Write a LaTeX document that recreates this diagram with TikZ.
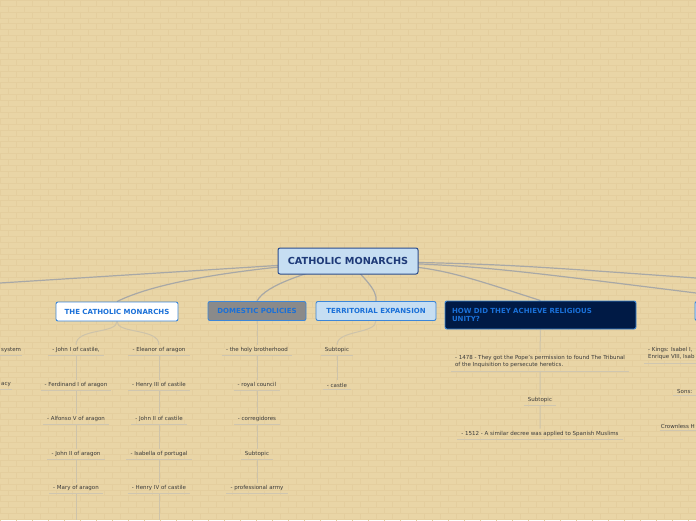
\documentclass[tikz,border=0pt]{standalone}
\usepackage{fontspec}
\setmainfont{DejaVu Sans}
\usetikzlibrary{calc}
\definecolor{bgc}{HTML}{E9D5A6}
\definecolor{brickc}{HTML}{E4CE9E}
\definecolor{mainline}{HTML}{A8A8A6}
\definecolor{subline}{HTML}{CDC3AA}
\definecolor{ulc}{HTML}{CFC6B0}
\definecolor{cfill}{HTML}{C6DEF2}
\definecolor{cdraw}{HTML}{2B4C8C}
\definecolor{ctext}{HTML}{1E3A78}
\definecolor{tdraw}{HTML}{3C86D8}
\definecolor{ttext}{HTML}{1A70D8}
\definecolor{grayfill}{HTML}{8A8A8A}
\definecolor{navyfill}{HTML}{001A45}
\definecolor{subtext}{HTML}{3A3A3A}
\pgfdeclarelayer{bg}
\pgfdeclarelayer{edges}
\pgfsetlayers{bg,edges,main}
\tikzset{
  central/.style={draw=cdraw, fill=cfill, rounded corners=2pt, line width=1pt,
    text=ctext, font=\fontsize{9.7}{11}\selectfont\bfseries, minimum width=140pt, minimum height=26pt, inner sep=0pt},
  topic/.style={draw=tdraw, rounded corners=2pt, line width=0.9pt, text=ttext,
    font=\fontsize{7}{8}\selectfont\bfseries, minimum height=19pt, inner sep=0pt},
  subt/.style={text=subtext, font=\fontsize{5.5}{7.2}\selectfont, inner xsep=4pt, inner ysep=2.4pt,
    append after command={(\tikzlastnode.south west) edge[ul] (\tikzlastnode.south east)}},
  ul/.style={draw=ulc, line width=0.9pt},
  mainconn/.style={draw=mainline, line width=1.2pt},
  subconn/.style={draw=subline, line width=1pt},
}
\begin{document}
\begin{tikzpicture}[x=1pt,y=-1pt]
\useasboundingbox (0,0) rectangle (696,520);
\begin{pgfonlayer}{bg}
  \fill[bgc] (0,0) rectangle (696,520);
  \foreach \r [evaluate=\r as \off using {mod(\r,2)*8}] in {0,...,88} {
    \draw[brickc, line width=0.4pt] (0,\r*5.9) -- (696,\r*5.9);
    \draw[brickc, line width=0.4pt] \foreach \k in {-1,...,44} { (\k*16+\off,\r*5.9) -- ++(0,5.9) };
  }
\end{pgfonlayer}

% central
\node[central] (c) at (348,261) {CATHOLIC MONARCHS};

% topics
\node[topic, fill=white, minimum width=122pt] (tcm) at (117,311.5) {THE CATHOLIC MONARCHS};
\node[topic, fill=grayfill, minimum width=98pt] (dp) at (257,311) {DOMESTIC POLICIES};
\node[topic, fill=cfill, minimum width=120pt] (te) at (376,311) {TERRITORIAL EXPANSION};
\node[topic, fill=navyfill, minimum width=191pt, minimum height=28pt, text width=177pt, align=left,
  font=\fontsize{7}{8.2}\selectfont\bfseries] (hd) at (540.5,315) {HOW DID THEY ACHIEVE RELIGIOUS\\UNITY?};
\node[topic, fill=cfill, minimum width=20pt, anchor=west] (rt) at (694.5,311) {};

\coordinate (offL) at (0,283);
\coordinate (offR1) at (696,278);
\coordinate (offR2) at (696,293);

% left edge fragments
\node[subt, anchor=west, inner xsep=1pt] (ls1) at (0,350) {system};
\node[subt, anchor=west, inner xsep=1pt] (ls2) at (0,385) {acy};

% catholic monarchs children
\node[subt] (a1) at (76,350) {- John I of castile,};
\node[subt] (a2) at (76,385) {- Ferdinand I of aragon};
\node[subt] (a3) at (76,419) {- Alfonso V of aragon};
\node[subt] (a4) at (76,454) {- John II of aragon};
\node[subt] (a5) at (76,488) {- Mary of aragon};
\node[subt] (b1) at (159,350) {- Eleanor of aragon};
\node[subt] (b2) at (159,385) {- Henry III of castile};
\node[subt] (b3) at (159,419) {- John II of castile};
\node[subt] (b4) at (159,454) {- Isabella of portugal};
\node[subt] (b5) at (159,488) {- Henry IV of castile};
\coordinate (aend) at (76,520);
\coordinate (bend) at (159,520);

% domestic policies children
\node[subt] (d1) at (257,350) {- the holy brotherhood};
\node[subt] (d2) at (257,385) {- royal council};
\node[subt] (d3) at (257,419) {- corregidores};
\node[subt] (d4) at (257,454) {Subtopic};
\node[subt] (d5) at (257,488) {- professional army};

% territorial expansion children
\node[subt] (t1) at (337,350) {Subtopic};
\node[subt] (t2) at (337,385) {- castle};

% religious unity children
\node[subt, align=left, inner ysep=3pt] (h1) at (540,361.5) {- 1478 - They got the Pope's permission to found The Tribunal\\of the Inquisition to persecute heretics.};
\node[subt] (h2) at (540,400) {Subtopic};
\node[subt] (h3) at (540,434) {- 1512 - A similar decree was applied to Spanish Muslims};

% right edge fragments
\node[subt, anchor=west, align=left, inner ysep=3pt] (r1) at (644,353.5) {- Kings: Isabel I,\\Enrique VIII, Isab};
\node[subt, anchor=west] (r2) at (673,391) {Sons:};
\node[subt, anchor=east, inner xsep=1pt] (r3) at (696,426) {Crownless H};

\begin{pgfonlayer}{edges}
  \draw[mainconn] (c.center) -- (offL);
  \draw[mainconn] (c.center) .. controls (220,270) and (150,285) .. (tcm.north);
  \draw[mainconn] (c.center) .. controls (310,272) and (266,284) .. (dp.north);
  \draw[mainconn] (c.center) .. controls (362,276) and (378,290) .. (te.north);
  \draw[mainconn] (c.center) .. controls (440,268) .. (hd.north);
  \draw[mainconn] (c.center) .. controls (500,264) .. (offR1);
  \draw[mainconn] (c.center) .. controls (480,266) .. (offR2);

  \draw[subconn] (tcm.south) .. controls (117,334) and (76,328) .. (a1.north);
  \draw[subconn] (tcm.south) .. controls (117,334) and (159,328) .. (b1.north);
  \draw[subconn] (a1.south) -- (a2.north) (a2.south) -- (a3.north) (a3.south) -- (a4.north) (a4.south) -- (a5.north) (a5.south) -- (aend);
  \draw[subconn] (b1.south) -- (b2.north) (b2.south) -- (b3.north) (b3.south) -- (b4.north) (b4.south) -- (b5.north) (b5.south) -- (bend);

  \draw[subconn] (dp.south) -- (d1.north) (d1.south) -- (d2.north) (d2.south) -- (d3.north) (d3.south) -- (d4.north) (d4.south) -- (d5.north);

  \draw[subconn] (te.south) .. controls (376,334) and (337,330) .. (t1.north);
  \draw[subconn] (t1.south) -- (t2.north);

  \draw[subconn] (hd.south) -- (h1.north) (h1.south) -- (h2.north) (h2.south) -- (h3.north);
\end{pgfonlayer}
\end{tikzpicture}
\end{document}
